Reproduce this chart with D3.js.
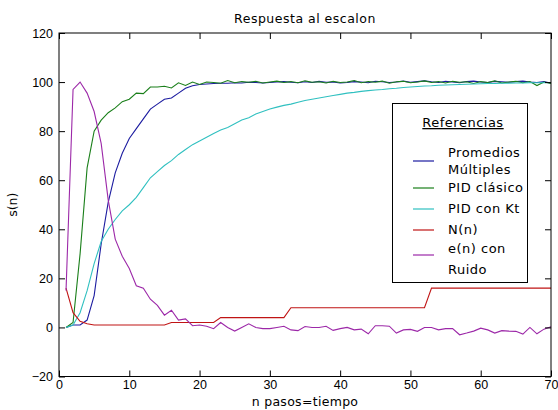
<!DOCTYPE html>
<html>
<head>
<meta charset="utf-8">
<script src="https://cdn.jsdelivr.net/npm/d3@7"></script>
<style>
  body { margin: 0; background: #fff; }
  text { font-family: "DejaVu Sans", sans-serif; fill: #000; }
</style>
</head>
<body>
<svg id="chart" width="558" height="410"></svg>
<script>
// step response values, n = 1..70
const promedios = [0, 1, 1, 3, 13, 34, 51, 63, 71, 77, 81, 85, 89, 91, 93, 93.5, 95.5, 97.5, 98.5, 99,
  99.2, 99.4, 99.5, 99.5, 99.7, 99.6, 99.9, 99.8, 99.6, 99.8,
  100, 100.2, 99.9, 99.7, 100.1, 99.8, 100.3, 99.9, 100, 99.6,
  99.8, 100.2, 100, 99.7, 100.3, 100.1, 99.8, 100, 100.4, 99.9,
  100.2, 100.5, 100.1, 99.8, 100.3, 100, 99.7, 100.2, 100.4, 100,
  99.8, 100.3, 100.1, 99.9, 100.2, 100.4, 100, 99.8, 100.2, 99.5];
const pidClasico = [0, 2, 30, 65, 80, 84.5, 87.5, 89.5, 92, 93,
  95.5, 95.3, 98, 98, 98.3, 97.6, 99.7, 98.6, 100, 99,
  100, 99.8, 99.5, 100.6, 99.7, 100.2, 99.9, 100.3, 99.6, 100,
  100.4, 99.8, 100.2, 99.7, 100.5, 99.9, 100.1, 99.6, 100.3, 99.8,
  100, 100.6, 99.7, 100.2, 99.9, 100.4, 99.5, 100.1, 100.3, 99.7,
  100, 100.5, 99.8, 100.2, 99.6, 100.3, 99.9, 100.1, 99.4, 100.2,
  99.8, 100.5, 99.6, 100, 100.3, 99.7, 100.2, 98.6, 100, 99.4];
const pidKt = [0, 1, 6, 15, 26, 35, 40, 44, 47.5, 50,
  53, 57, 61, 63.5, 66, 68, 70.5, 72.5, 74.5, 76,
  77.5, 79, 80.5, 81.5, 83, 84.5, 85.5, 87, 88, 89,
  89.8, 90.5, 91, 91.8, 92.5, 93, 93.5, 94, 94.5, 95,
  95.5, 95.8, 96.2, 96.5, 96.8, 97, 97.3, 97.5, 97.8, 98,
  98.2, 98.4, 98.5, 98.7, 98.8, 98.9, 99, 99.1, 99.2, 99.3,
  99.4, 99.4, 99.5, 99.5, 99.6, 99.6, 99.7, 99.7, 99.7, 99.8];
const nN = [16, 6, 2.5, 1.5, 1,
  1, 1, 1, 1, 1, 1, 1, 1, 1, 1,
  2, 2, 2, 2, 2, 2, 2,
  4, 4, 4, 4, 4, 4, 4, 4, 4, 4,
  8, 8, 8, 8, 8, 8, 8, 8, 8, 8, 8, 8, 8, 8, 8, 8, 8, 8, 8, 8,
  16, 16, 16, 16, 16, 16, 16, 16, 16, 16, 16, 16, 16, 16, 16, 16, 16, 16];
const errRuido = [15, 97, 100, 95.5, 88, 75, 52, 36, 29, 24,
  17, 16, 11.5, 9, 5, 7, 3, 3.5, 0.7, 1,
  0.5, -0.5, 2, 0, -1.5, 0, 1.5, 0, -0.5, -0.5,
  0, 0.5, -1, -1.3, 0.4, 0, 0, 0.5, -1.2, -0.5,
  0, -1, -0.7, -2.6, 0.7, 0.7, 0.5, -2.3, -1, -0.8,
  -1.6, 0, 0, -1, -0.5, -0.5, -3, -2.3, -1.5, -0.3,
  -1, -2.3, -1.3, -1.5, -1.6, -2.7, 0, -2.6, -0.7, 0.3];

const xTicks = [0, 10, 20, 30, 40, 50, 60, 70];
const yTicks = [-20, 0, 20, 40, 60, 80, 100, 120];

const series = [
  { name: ["Promedios", "Múltiples"], values: promedios, color: "#1c1ca0" },
  { name: ["PID clásico"], values: pidClasico, color: "#1a7f1a" },
  { name: ["PID con Kt"], values: pidKt, color: "#30c0c0" },
  { name: ["N(n)"], values: nN, color: "#c01414" },
  { name: ["e(n) con", "Ruido"], values: errRuido, color: "#9c28a8" }
];

const svg = d3.select("#chart");
const plotL = 59, plotR = 551, plotT = 33, plotB = 376.5;

const x = d3.scaleLinear().domain([0, 70]).range([plotL, plotR]);
const y = d3.scaleLinear().domain([-20, 120]).range([plotB, plotT]);

svg.append("rect").attr("width", 558).attr("height", 410).attr("fill", "#fff");

// lines
const line = d3.line()
  .x((d, i) => x(i + 1))
  .y(d => y(d));

series.forEach(s => {
  svg.append("path")
    .datum(s.values)
    .attr("fill", "none")
    .attr("stroke", s.color)
    .attr("stroke-width", 1.1)
    .attr("d", line);
});

// axes, ticks pointing inward
const tickStyle = g => {
  g.select(".domain").remove();
  g.selectAll(".tick line").attr("stroke", "#000");
  g.selectAll("text")
    .style("font-family", "'Liberation Sans', sans-serif")
    .style("font-size", "12.5px")
    .attr("fill", "#000");
};

svg.append("g")
  .attr("transform", `translate(0,${plotB})`)
  .call(d3.axisBottom(x).tickValues(xTicks).tickSizeInner(-6).tickSizeOuter(0).tickPadding(4))
  .call(tickStyle);

svg.append("g")
  .attr("transform", `translate(0,${plotT})`)
  .call(d3.axisTop(x).tickValues(xTicks).tickSizeInner(-6).tickSizeOuter(0).tickFormat(""))
  .call(tickStyle);

svg.append("g")
  .attr("transform", `translate(${plotL},0)`)
  .call(d3.axisLeft(y).tickValues(yTicks).tickSizeInner(-6).tickSizeOuter(0).tickPadding(6))
  .call(tickStyle);

svg.append("g")
  .attr("transform", `translate(${plotR},0)`)
  .call(d3.axisRight(y).tickValues(yTicks).tickSizeInner(-6).tickSizeOuter(0).tickFormat(""))
  .call(tickStyle);

svg.append("rect")
  .attr("x", plotL).attr("y", plotT)
  .attr("width", plotR - plotL).attr("height", plotB - plotT)
  .attr("fill", "none").attr("stroke", "#000").attr("stroke-width", 1);

// title and axis labels
svg.append("text")
  .attr("x", (plotL + plotR) / 2).attr("y", 23)
  .attr("text-anchor", "middle")
  .style("font-size", "12.5px").style("letter-spacing", "0.5px")
  .text("Respuesta al escalon");

svg.append("text")
  .attr("x", (plotL + plotR) / 2).attr("y", 406)
  .attr("text-anchor", "middle")
  .style("font-size", "12.5px").style("letter-spacing", "0.3px")
  .text("n pasos=tiempo");

svg.append("text")
  .attr("transform", `translate(17,${(plotT + plotB) / 2}) rotate(-90)`)
  .attr("text-anchor", "middle")
  .style("font-size", "12.5px")
  .text("s(n)");

// legend
const legend = svg.append("g");
legend.append("rect")
  .attr("x", 392.5).attr("y", 103.5).attr("width", 135).attr("height", 179)
  .attr("fill", "#fff").attr("stroke", "#000").attr("stroke-width", 1);

legend.append("text")
  .attr("x", 463).attr("y", 127)
  .attr("text-anchor", "middle")
  .style("font-size", "13px").style("letter-spacing", "0.5px")
  .style("text-decoration", "underline")
  .text("Referencias");

const rows = [
  { lineY: 161, textY: [157, 174] },
  { lineY: 188, textY: [192] },
  { lineY: 209, textY: [213] },
  { lineY: 230, textY: [234] },
  { lineY: 255, textY: [253, 274] }
];

series.forEach((s, i) => {
  const r = rows[i];
  legend.append("line")
    .attr("x1", 413).attr("x2", 434)
    .attr("y1", r.lineY).attr("y2", r.lineY)
    .attr("stroke", s.color).attr("stroke-width", 1.2);
  s.name.forEach((t, j) => {
    legend.append("text")
      .attr("x", 448).attr("y", r.textY[j])
      .style("font-size", "13px").style("letter-spacing", "0.5px")
      .text(t);
  });
});
</script>
</body>
</html>
